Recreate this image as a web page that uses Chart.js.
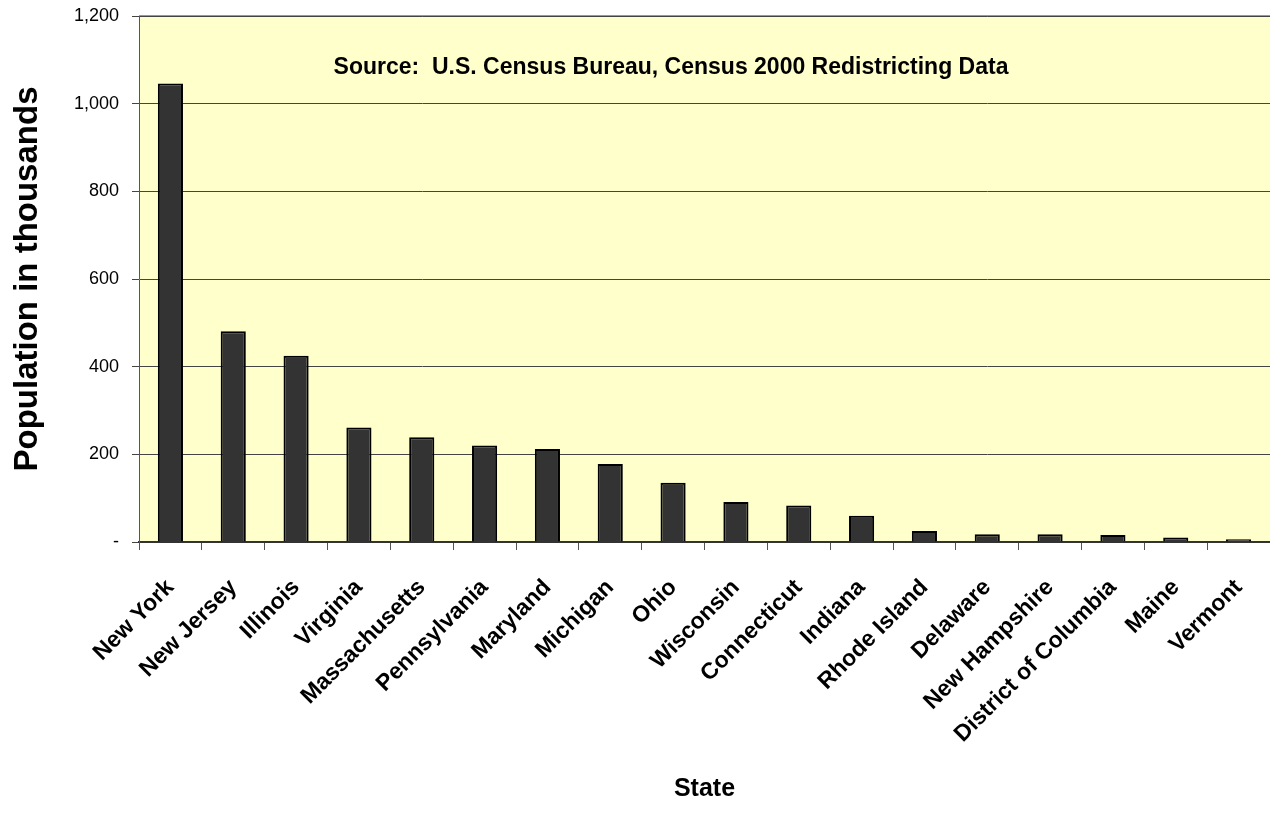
<!DOCTYPE html>
<html>
<head>
<meta charset="utf-8">
<script src="https://cdn.jsdelivr.net/npm/chart.js@4/dist/chart.umd.min.js"></script>
<style>
  html, body { margin: 0; padding: 0; background: #fff; }
  #wrap { width: 1270px; height: 827px; }
</style>
</head>
<body>
<div id="wrap"><canvas id="myBarChart"></canvas></div>
<script>
const states = ['New York', 'New Jersey', 'Illinois', 'Virginia', 'Massachusetts', 'Pennsylvania',
    'Maryland', 'Michigan', 'Ohio', 'Wisconsin', 'Connecticut', 'Indiana', 'Rhode Island',
    'Delaware', 'New Hampshire', 'District of Columbia', 'Maine', 'Vermont']
const population = [1046, 481, 425, 261, 239, 220, 212, 178, 135, 91, 83, 60, 25, 17.6, 17.6, 16, 10, 6]
const yTicks = [0, 200, 400, 600, 800, 1000, 1200]
const sourceNote = 'Source:  U.S. Census Bureau, Census 2000 Redistricting Data'

Chart.defaults.font.family = '"Liberation Sans", Arial, sans-serif'
Chart.defaults.color = '#000'

// yellow plot background, grey top edge and the source note
const plotDecor = {
    id: 'plotDecor',
    beforeDraw(chart) {
        const { ctx, chartArea: a } = chart
        ctx.save()
        ctx.fillStyle = '#FFFFCC'
        ctx.fillRect(a.left, a.top, a.right - a.left, a.bottom - a.top)
        ctx.strokeStyle = '#999'
        ctx.lineWidth = 2
        ctx.beginPath()
        ctx.moveTo(a.left, a.top)
        ctx.lineTo(a.right, a.top)
        ctx.stroke()
        ctx.restore()
    },
    afterDatasetsDraw(chart) {
        const { ctx, chartArea: a } = chart
        ctx.save()
        ctx.font = 'bold 23px "Liberation Sans", Arial, sans-serif'
        ctx.fillStyle = '#000'
        ctx.textAlign = 'center'
        ctx.textBaseline = 'middle'
        ctx.fillText(sourceNote, a.left + 532, a.top + 52)
        ctx.restore()
    }
}

let element = document.getElementById('myBarChart')
new Chart(element.getContext('2d'), {
    type: 'bar',
    data: {
        labels: states,
        datasets: [{
            label: 'Population',
            data: population,
            backgroundColor: '#333333',
            borderColor: '#000',
            borderWidth: 2,
            barPercentage: 0.4,
            categoryPercentage: 1
        }]
    },
    options: {
        responsive: true,
        maintainAspectRatio: false,
        animation: false,
        layout: { padding: { left: 0, right: 0, top: 16, bottom: 0 } },
        plugins: {
            legend: { display: false },
            tooltip: { enabled: false }
        },
        scales: {
            x: {
                offset: true,
                afterFit(scale) {
                    scale.height = 285
                    scale.paddingLeft = 0
                    scale.paddingRight = 0
                },
                grid: {
                    offset: true,
                    drawOnChartArea: false,
                    drawTicks: true,
                    tickLength: 8,
                    color: '#555'
                },
                border: { color: '#333', width: 2 },
                ticks: {
                    maxRotation: 45,
                    minRotation: 45,
                    autoSkip: false,
                    font: { size: 23, weight: 'bold' },
                    padding: 24
                },
                title: {
                    display: true,
                    text: 'State',
                    font: { size: 25, weight: 'bold' },
                    padding: { top: 0, bottom: 23 }
                }
            },
            y: {
                min: 0,
                max: 1200,
                afterFit(scale) {
                    scale.width = 139
                    scale.paddingTop = 0
                    scale.paddingBottom = 0
                },
                afterBuildTicks(scale) {
                    scale.ticks = yTicks.map(v => ({ value: v }))
                },
                grid: {
                    color: '#444',
                    lineWidth: 1,
                    tickLength: 7
                },
                border: { color: '#555', width: 1 },
                ticks: {
                    font: { size: 18 },
                    padding: 13,
                    callback: v => v === 0 ? '-' : v.toLocaleString('en-US')
                },
                title: {
                    display: true,
                    text: 'Population in thousands',
                    font: { size: 33, weight: 'bold' },
                    padding: { top: 8, bottom: 0 }
                }
            }
        }
    },
    plugins: [plotDecor]
})
</script>
</body>
</html>
